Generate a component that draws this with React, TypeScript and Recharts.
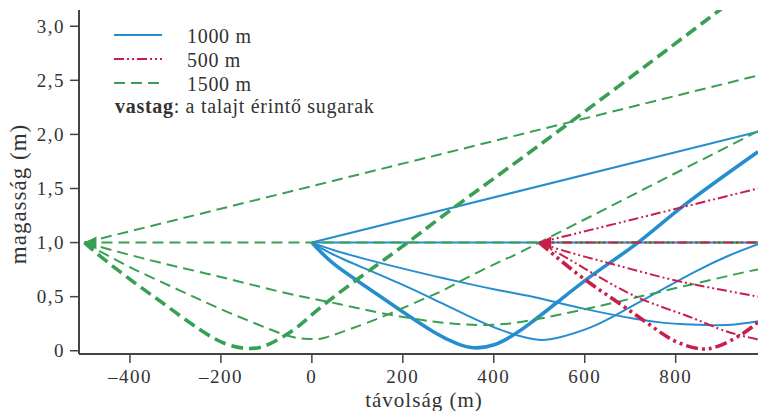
import { ComposedChart, Line, Scatter, XAxis, YAxis } from 'recharts';

// rays as [distance (m), height (m)]
const blueUp = [[0, 1], [981, 2.024]];
const blueFlat = [[0, 1], [981, 1]];
const blueShallow = [
  [0, 1], [47, 0.932], [120, 0.845], [194, 0.766], [267, 0.692], [340, 0.623], [414, 0.557],
  [490, 0.494], [600, 0.387], [710, 0.295], [770, 0.26], [820, 0.244], [880, 0.236], [930, 0.242], [981, 0.272],
];
const blueSteep = [
  [0, 1], [47, 0.89], [120, 0.755], [194, 0.62], [267, 0.478], [340, 0.33], [414, 0.195],
  [470, 0.122], [505, 0.1], [548, 0.128], [622, 0.232], [695, 0.392], [768, 0.561], [842, 0.73], [915, 0.876], [981, 0.985],
];
const blueGround = [
  [0, 1], [47, 0.808], [120, 0.59], [194, 0.376], [267, 0.176], [318, 0.068], [355, 0.028],
  [399, 0.053], [443, 0.145], [480, 0.253], [541, 0.453], [622, 0.715], [717, 1.0], [824, 1.362], [981, 1.84],
];

const greenUp = [[-500, 1], [981, 2.545]];
const greenFlat = [[-500, 1], [981, 1]];
const greenShallow = [
  [-500, 1], [-417, 0.905], [-329, 0.81], [-233, 0.715], [-146, 0.625], [-72, 0.548], [-6, 0.487],
  [62, 0.43], [157, 0.345], [267, 0.27], [330, 0.245], [377, 0.238], [430, 0.25], [490, 0.288],
  [600, 0.383], [710, 0.49], [820, 0.598], [930, 0.706], [981, 0.752],
];
const greenSteep = [
  [-500, 1], [-464, 0.915], [-387, 0.746], [-292, 0.561], [-204, 0.392], [-116, 0.238], [-58, 0.145],
  [-26, 0.115], [0, 0.108], [26, 0.118], [84, 0.2], [164, 0.33], [252, 0.49], [292, 0.565], [355, 0.705],
  [430, 0.855], [500, 1.0], [981, 2.03],
];
const greenGround = [
  [-500, 1], [-464, 0.87], [-395, 0.645], [-321, 0.42], [-248, 0.2], [-190, 0.065], [-145, 0.022],
  [-100, 0.05], [-43, 0.185], [-6, 0.31], [46, 0.49], [134, 0.765], [220, 1.03], [326, 1.365],
  [574, 2.13], [897, 3.15], [930, 3.25],
];

const redUp = [[500, 1], [981, 1.5]];
const redFlat = [[500, 1], [981, 1]];
const redShallow = [[500, 1], [534, 0.95], [600, 0.87], [680, 0.78], [784, 0.665], [880, 0.58], [981, 0.5]];
const redSteep = [[500, 1], [534, 0.921], [600, 0.76], [710, 0.506], [820, 0.33], [894, 0.205], [940, 0.145], [981, 0.105]];
const redGround = [
  [500, 1], [534, 0.88], [600, 0.66], [674, 0.444], [747, 0.228], [798, 0.09], [850, 0.02],
  [894, 0.043], [945, 0.152], [981, 0.265],
];

const sources1500 = [[-500, 1]];
const sources500 = [[500, 1]];

const xTicks = [-400, -200, 0, 200, 400, 600, 800];
const yTicks = [0, 0.5, 1, 1.5, 2, 2.5, 3];
const legendLabels = ['1000 m', '500 m', '1500 m'];

const BLUE = '#268ecf';
const RED = '#c81e4b';
const GREEN = '#38a055';
const INK = '#333';
const AXIS = '#444';
const FONT = "'Liberation Serif', 'DejaVu Serif', serif";

const thin = 2;
const thick = 3.6;
const greenDash = '11 6';
const redDash = '10 3 2 3 2 3';
const redDashThick = '12 4 3 4 3 4';

const toPts = (a: number[][]) => a.map(([x, y]) => ({ x, y }));

const series = [
  { key: 'b1', data: blueUp, color: BLUE, width: thin, dash: undefined },
  { key: 'b2', data: blueFlat, color: BLUE, width: thin, dash: undefined },
  { key: 'b3', data: blueShallow, color: BLUE, width: thin, dash: undefined },
  { key: 'b4', data: blueSteep, color: BLUE, width: thin, dash: undefined },
  { key: 'b5', data: blueGround, color: BLUE, width: thick, dash: undefined },
  { key: 'g1', data: greenUp, color: GREEN, width: thin, dash: greenDash },
  { key: 'g2', data: greenFlat, color: GREEN, width: thin, dash: greenDash },
  { key: 'g3', data: greenShallow, color: GREEN, width: thin, dash: greenDash },
  { key: 'g4', data: greenSteep, color: GREEN, width: thin, dash: greenDash },
  { key: 'g5', data: greenGround, color: GREEN, width: thick, dash: '12 6' },
  { key: 'r1', data: redUp, color: RED, width: thin, dash: redDash },
  { key: 'r2', data: redFlat, color: RED, width: thin, dash: redDash },
  { key: 'r3', data: redShallow, color: RED, width: thin, dash: redDash },
  { key: 'r4', data: redSteep, color: RED, width: thin, dash: redDash },
  { key: 'r5', data: redGround, color: RED, width: thick, dash: redDashThick },
];

const fmtX = (v: number) => String(v).replace('-', '\u2013');
const fmtY = (v: number) => (v === 0 ? '0' : v.toFixed(1).replace('.', ','));

const Arrow = (props: any) => {
  const { cx, cy, fill } = props;
  return <polygon points={`${cx},${cy} ${cx + 12},${cy - 6} ${cx + 12},${cy + 7}`} fill={fill} />;
};

const XTitle = () => (
  <text x={424} y={407} textAnchor="middle" fontSize={21} letterSpacing={1} fontFamily={FONT} fill={INK}>
    távolság (m)
  </text>
);

const YTitle = () => (
  <text x={26} y={194} transform="rotate(-90 26 194)" textAnchor="middle" fontSize={23} letterSpacing={1} fontFamily={FONT} fill={INK}>
    magasság (m)
  </text>
);

function LegendBox() {
  const samples = [
    { color: BLUE, dash: undefined },
    { color: RED, dash: redDash },
    { color: GREEN, dash: greenDash },
  ];
  return (
    <svg width={420} height={130} style={{ position: 'absolute', left: 0, top: 0, pointerEvents: 'none' }}>
      {samples.map((s, i) => (
        <g key={i}>
          <line x1={114} x2={162} y1={35 + i * 24} y2={35 + i * 24} stroke={s.color} strokeWidth={2} strokeDasharray={s.dash} />
          <text x={187} y={43 + i * 24} fontSize={20} letterSpacing={0.7} fontFamily={FONT} fill={INK}>
            {legendLabels[i]}
          </text>
        </g>
      ))}
      <text x={115} y={113} fontSize={20} letterSpacing={0.7} fontFamily={FONT} fill={INK}>
        <tspan fontWeight="bold">vastag</tspan>: a talajt érintő sugarak
      </text>
    </svg>
  );
}

export default function App() {
  const tick = { fill: INK, fontSize: 19, fontFamily: FONT, letterSpacing: 1.5 };
  return (
    <div style={{ position: 'absolute', left: 0, top: 0, width: 758, height: 411, background: '#fff' }}>
      <ComposedChart width={758} height={411} margin={{ top: 10, right: 0, bottom: 0, left: 0 }}>
        <XAxis
          type="number"
          dataKey="x"
          domain={[-512, 981]}
          ticks={xTicks}
          tickFormatter={fmtX}
          allowDataOverflow
          height={57}
          tickSize={9}
          tickMargin={7}
          tick={tick}
          axisLine={{ stroke: AXIS, strokeWidth: 2 }}
          tickLine={{ stroke: AXIS, strokeWidth: 1.5 }}
          label={{ content: XTitle }}
        />
        <YAxis
          type="number"
          dataKey="y"
          domain={[-0.03, 3.15]}
          ticks={yTicks}
          tickFormatter={fmtY}
          allowDataOverflow
          width={79}
          tickSize={9}
          tickMargin={5}
          tick={tick}
          axisLine={{ stroke: AXIS, strokeWidth: 2 }}
          tickLine={{ stroke: AXIS, strokeWidth: 1.5 }}
          label={{ content: YTitle }}
        />
        {series.map((s) => (
          <Line
            key={s.key}
            data={toPts(s.data)}
            dataKey="y"
            type="natural"
            stroke={s.color}
            strokeWidth={s.width}
            strokeDasharray={s.dash}
            dot={false}
            activeDot={false}
            isAnimationActive={false}
          />
        ))}
        <Scatter data={toPts(sources1500)} dataKey="y" fill={GREEN} shape={Arrow} isAnimationActive={false} />
        <Scatter data={toPts(sources500)} dataKey="y" fill={RED} shape={Arrow} isAnimationActive={false} />
      </ComposedChart>
      <LegendBox />
    </div>
  );
}
